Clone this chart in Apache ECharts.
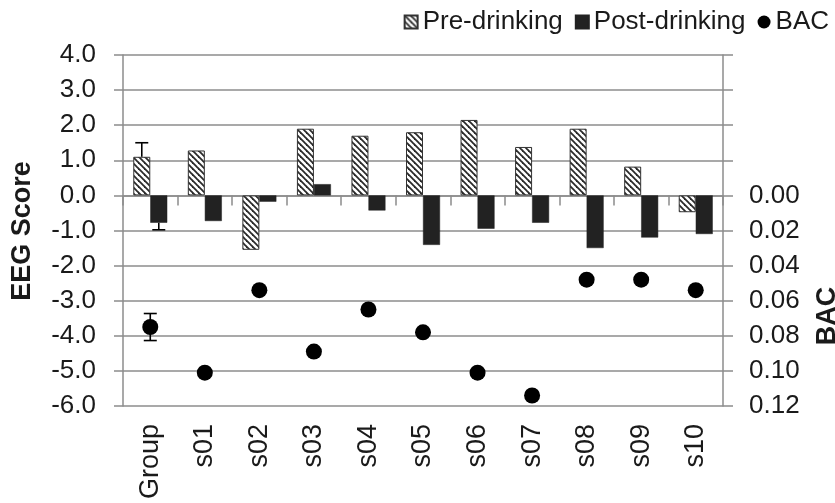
<!DOCTYPE html>
<html>
<head>
<meta charset="utf-8">
<script src="https://cdn.jsdelivr.net/npm/echarts@6/dist/echarts.min.js"></script>
<style>
  html, body { margin: 0; padding: 0; background: #fff; }
  #chart { width: 835px; height: 503px; }
</style>
</head>
<body>
<div id="chart"></div>
<script>
// EEG scores before and after drinking, with blood alcohol concentration (BAC)
const categories = ['Group', 's01', 's02', 's03', 's04', 's05', 's06', 's07', 's08', 's09', 's10'];
const preDrinking = [1.1, 1.28, -1.55, 1.9, 1.7, 1.8, 2.15, 1.38, 1.9, 0.82, -0.48];
const postDrinking = [-0.78, -0.73, -0.18, 0.32, -0.43, -1.41, -0.95, -0.78, -1.5, -1.2, -1.1];
const bac = [0.075, 0.101, 0.054, 0.089, 0.065, 0.078, 0.101, 0.114, 0.048, 0.048, 0.054];
// error bars for the group mean: [category index, mean, error]
const preError = [[0, 1.1, 0.4]];
const postError = [[0, -0.78, 0.2]];
const bacError = [[0, 0.075, 0.0077]];

const FONT = 'Liberation Sans, Arial, sans-serif';
const TEXT = '#1a1a1a';
const GRID = '#8c8c8c';
const BAR_W = 17;

// diagonal hatch used for the pre-drinking bars
function hatch() {
  const s = 6;
  const c = document.createElement('canvas');
  c.width = s; c.height = s;
  const g = c.getContext('2d');
  g.fillStyle = '#fff';
  g.fillRect(0, 0, s, s);
  g.strokeStyle = '#2a2a2a';
  g.lineWidth = 1.8;
  for (let k = -1; k <= 1; k++) {
    g.beginPath();
    g.moveTo(-1, -1 + k * s);
    g.lineTo(s + 1, s + 1 + k * s);
    g.stroke();
  }
  return { image: c, repeat: 'repeat' };
}

// I-beam error bar; dir: 1 = away from zero only, 0 = both ways
function errorBar(offset, dir) {
  return function (params, api) {
    const i = api.value(0), v = api.value(1), e = api.value(2);
    const sgn = v >= 0 ? 1 : -1;
    const hi = api.coord([i, dir ? v + sgn * e : v + e]);
    const lo = api.coord([i, dir ? v : v - e]);
    const x = hi[0] + offset;
    const cap = 6.5;
    const style = { stroke: '#000', lineWidth: 1.6 };
    const children = [
      { type: 'line', shape: { x1: x, y1: hi[1], x2: x, y2: lo[1] }, style }
    ];
    const capEnds = dir ? [hi] : [hi, lo];
    capEnds.forEach(p => children.push({
      type: 'line', shape: { x1: x - cap, y1: p[1], x2: x + cap, y2: p[1] }, style
    }));
    return { type: 'group', children };
  };
}

const chart = echarts.init(document.getElementById('chart'), null, { renderer: 'canvas' });
const hatchFill = hatch();

chart.setOption({
  animation: false,
  backgroundColor: '#fff',
  textStyle: { fontFamily: FONT },
  legend: {
    data: [
      { name: 'Pre-drinking', icon: 'rect' },
      { name: 'Post-drinking', icon: 'rect' },
      { name: 'BAC', icon: 'circle' }
    ],
    right: 1,
    top: 4,
    itemWidth: 13,
    itemHeight: 13,
    itemGap: 12,
    textStyle: { fontSize: 26, color: TEXT, fontFamily: FONT }
  },
  grid: { left: 123, right: 112, top: 55, bottom: 97, containLabel: false },
  xAxis: [
    {
      type: 'category',
      data: categories,
      position: 'bottom',
      axisLine: { show: false, onZero: false },
      axisTick: { show: false },
      axisLabel: { rotate: 90, margin: 18, fontSize: 27, color: TEXT, fontFamily: FONT }
    },
    {
      type: 'category',
      data: categories,
      position: 'bottom',
      axisLine: { show: true, onZero: true, lineStyle: { color: GRID, width: 1.5 } },
      axisTick: { show: true, length: 10, lineStyle: { color: GRID, width: 1.5 } },
      axisLabel: { show: false }
    }
  ],
  yAxis: [
    {
      type: 'value',
      min: -6,
      max: 4,
      interval: 1,
      axisLine: { show: true, lineStyle: { color: GRID, width: 1.5 } },
      axisTick: { show: true, length: 9, lineStyle: { color: GRID, width: 1.5 } },
      axisLabel: {
        margin: 27, fontSize: 26, color: TEXT, fontFamily: FONT,
        formatter: v => v.toFixed(1)
      },
      splitLine: { show: true, lineStyle: { color: GRID, width: 1.5 } }
    },
    {
      type: 'value',
      inverse: true,
      min: -0.08,
      max: 0.12,
      interval: 0.02,
      position: 'right',
      axisLine: { show: true, lineStyle: { color: GRID, width: 1.5 } },
      axisTick: { show: true, length: 10, lineStyle: { color: GRID, width: 1.5 } },
      axisLabel: {
        margin: 26, fontSize: 26, color: TEXT, fontFamily: FONT,
        formatter: v => (v < -1e-9 ? '' : Math.abs(v).toFixed(2))
      },
      splitLine: { show: false }
    }
  ],
  graphic: [
    {
      type: 'text', x: 23, y: 231, rotation: Math.PI / 2,
      style: { text: 'EEG Score', font: 'bold 27px ' + FONT, fill: TEXT, align: 'center', verticalAlign: 'middle' }
    },
    {
      type: 'text', x: 828, y: 316, rotation: Math.PI / 2,
      style: { text: 'BAC', font: 'bold 27px ' + FONT, fill: TEXT, align: 'center', verticalAlign: 'middle' }
    }
  ],
  series: [
    {
      name: 'Pre-drinking',
      type: 'bar',
      xAxisIndex: 0,
      yAxisIndex: 0,
      data: preDrinking,
      barWidth: BAR_W,
      barGap: '0%',
      itemStyle: { color: hatchFill, borderColor: '#333', borderWidth: 1 }
    },
    {
      name: 'Post-drinking',
      type: 'bar',
      xAxisIndex: 0,
      yAxisIndex: 0,
      data: postDrinking,
      barWidth: BAR_W,
      barGap: '0%',
      itemStyle: { color: '#222', borderColor: '#222', borderWidth: 0.5 }
    },
    {
      name: 'BAC',
      type: 'scatter',
      xAxisIndex: 0,
      yAxisIndex: 1,
      data: bac,
      symbol: 'circle',
      symbolSize: 16,
      itemStyle: { color: '#000', opacity: 1 },
      z: 5
    },
    {
      name: 'preErr', type: 'custom', xAxisIndex: 0, yAxisIndex: 0,
      renderItem: errorBar(-BAR_W / 2, 1), data: preError, z: 6
    },
    {
      name: 'postErr', type: 'custom', xAxisIndex: 0, yAxisIndex: 0,
      renderItem: errorBar(BAR_W / 2, 1), data: postError, z: 6
    },
    {
      name: 'bacErr', type: 'custom', xAxisIndex: 0, yAxisIndex: 1,
      renderItem: errorBar(0, 0), data: bacError, z: 6
    }
  ]
});
</script>
</body>
</html>
